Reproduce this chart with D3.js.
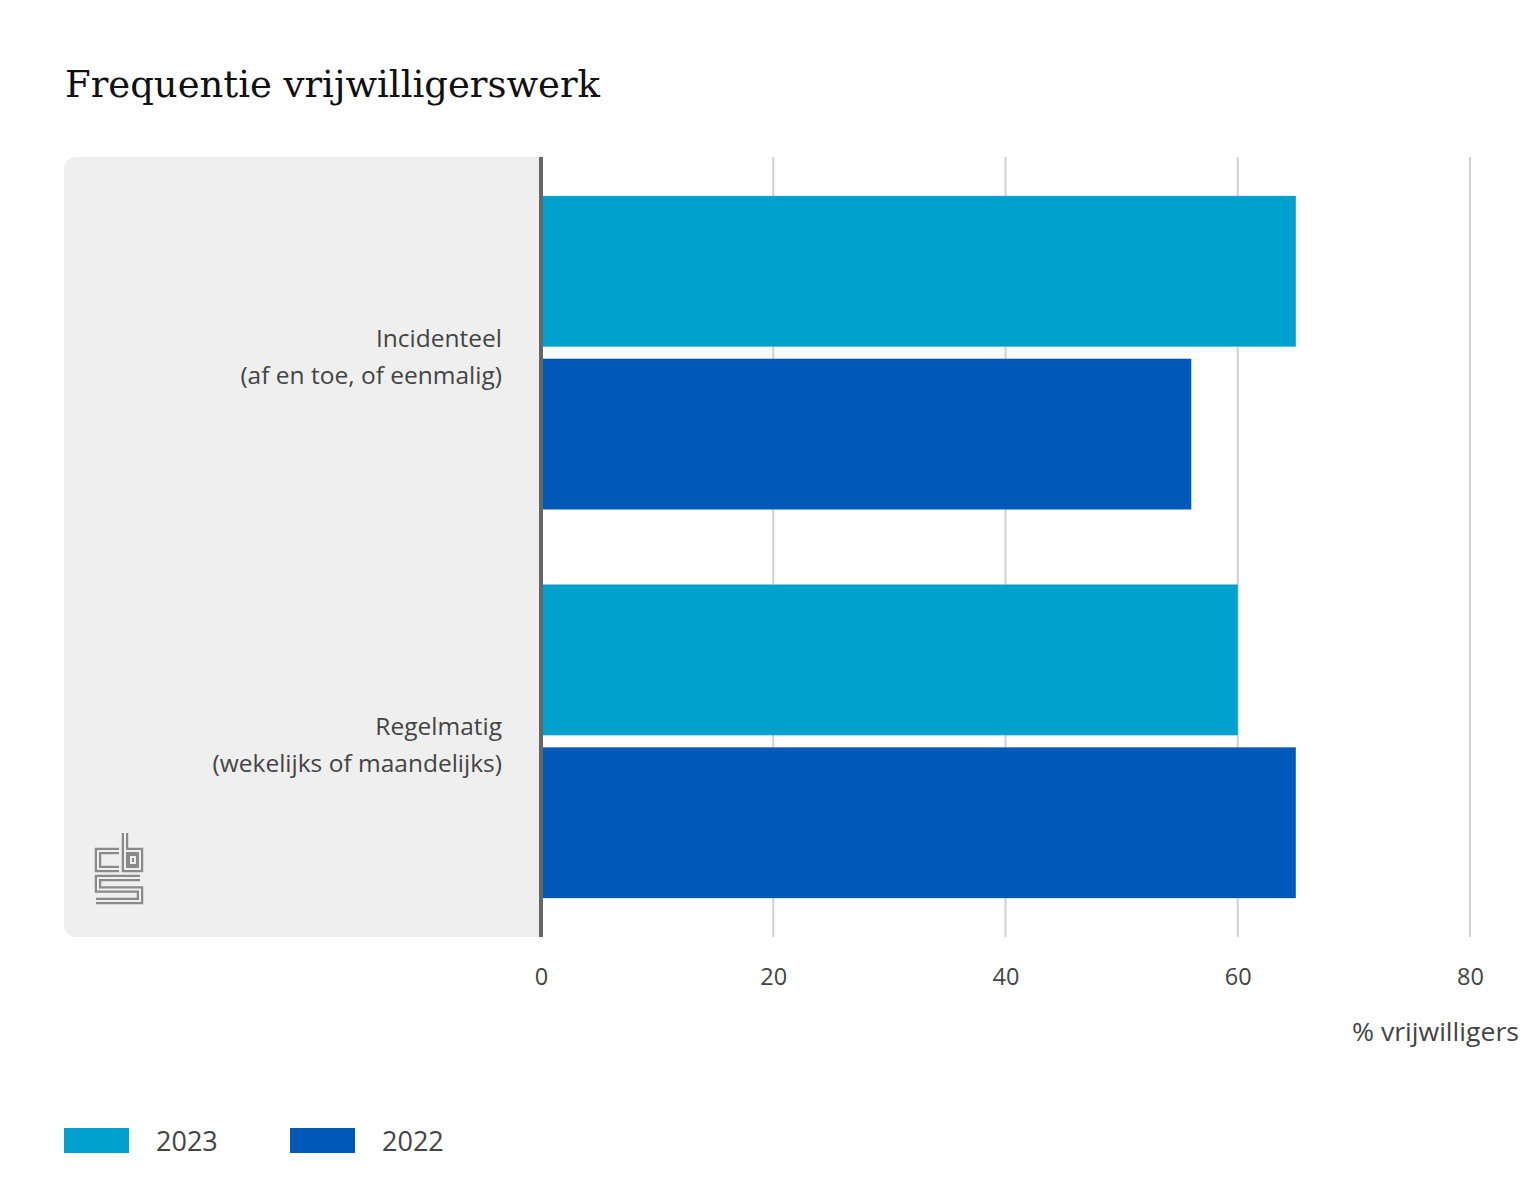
<!DOCTYPE html>
<html><head><meta charset="utf-8">
<script src="https://cdn.jsdelivr.net/npm/d3@7"></script>
<style>body{margin:0;background:#fff;} svg{display:block;}</style>
</head><body>
<script>
const categories = [["Incidenteel","(af en toe, of eenmalig)"],["Regelmatig","(wekelijks of maandelijks)"]];
const categoryKeys = ["Incidenteel","Regelmatig"];
const seriesNames = ["2023","2022"];
const values2023 = [65, 60];
const values2022 = [56, 65];
const tickValues = [0, 20, 40, 60, 80];
const colors = {"2023":"#00a1cd","2022":"#0058b8"};

const W = 1540, H = 1200;
const svg = d3.select("body").append("svg").attr("width", W).attr("height", H);
const font = "'Open Sans', sans-serif";

const m = {left:541, right:1470, top:157, bottom:937};
const x = d3.scaleLinear().domain([0,80]).range([m.left, m.right]);
const y0 = d3.scaleBand().domain(categoryKeys).range([m.top, m.bottom]).paddingInner(0.193).paddingOuter(0.1);
const y1 = d3.scaleBand().domain(seriesNames).range([0, y0.bandwidth()]).paddingInner(0.074);

// title
svg.append("text").attr("x",65).attr("y",97).text("Frequentie vrijwilligerswerk")
  .attr("font-family","'DejaVu Serif', serif").attr("font-size",37).attr("fill","#111")
  .attr("textLength",535).attr("lengthAdjust","spacingAndGlyphs");

// grey panel
svg.append("rect").attr("x",64).attr("y",m.top).attr("width",m.left-64+12).attr("height",m.bottom-m.top)
  .attr("rx",12).attr("fill","#efefef");
svg.append("rect").attr("x",m.left).attr("y",m.top).attr("width",20).attr("height",m.bottom-m.top).attr("fill","#fff");

// grid
svg.append("g").selectAll("line").data(tickValues.filter(d=>d>0)).join("line")
  .attr("x1",d=>x(d)).attr("x2",d=>x(d)).attr("y1",m.top).attr("y2",m.bottom)
  .attr("stroke","#d0d0d0").attr("stroke-width",2);

// x axis
const xAxis = svg.append("g").attr("transform",`translate(0,${m.bottom})`)
  .call(d3.axisBottom(x).tickValues(tickValues).tickSize(0).tickPadding(31));
xAxis.select(".domain").remove();
xAxis.selectAll("text").attr("font-family",font).attr("font-size",23.5).attr("fill","#444");

svg.append("text").attr("x",1519).attr("y",1041).attr("text-anchor","end").text("% vrijwilligers")
  .attr("font-family",font).attr("font-size",25).attr("fill","#444")
  .attr("textLength",167).attr("lengthAdjust","spacingAndGlyphs");

// bars
const data = categoryKeys.map((c,i)=>({cat:c, vals:[{s:"2023",v:values2023[i]},{s:"2022",v:values2022[i]}]}));
const groups = svg.append("g").selectAll("g").data(data).join("g")
  .attr("transform",d=>`translate(0,${y0(d.cat)})`);
groups.selectAll("rect").data(d=>d.vals).join("rect")
  .attr("x",x(0)).attr("y",d=>y1(d.s)).attr("height",y1.bandwidth())
  .attr("width",d=>x(d.v)-x(0)).attr("fill",d=>colors[d.s]);

// category labels
categories.forEach((lines,i)=>{
  const cy = y0(categoryKeys[i]) + y0.bandwidth()/2;
  const t = svg.append("text").attr("text-anchor","end").attr("font-family",font).attr("font-size",24.5).attr("fill","#444");
  lines.forEach((ln,j)=>{
    t.append("tspan").attr("x",502).attr("y",cy - 6 + j*37).text(ln);
  });
});

// y axis line
svg.append("line").attr("x1",m.left).attr("x2",m.left).attr("y1",m.top).attr("y2",m.bottom)
  .attr("stroke","#666").attr("stroke-width",4);

// logo
const logo = svg.append("g");
const lp = ["M119 851 H98 V869 H119","M125 833 V869 H140 V851 H125","M131 857 H135 V863 H131 Z","M140 878 H98 V889.5 H140 V901 H96"];
lp.forEach(p=>{
  logo.append("path").attr("d",p).attr("fill","none").attr("stroke","#8a8a8a").attr("stroke-width",6.5);
});
lp.forEach(p=>{
  logo.append("path").attr("d",p).attr("fill","none").attr("stroke","#efefef").attr("stroke-width",2);
});

// legend
seriesNames.forEach((s,i)=>{
  const lx = 64 + i*226;
  svg.append("rect").attr("x",lx).attr("y",1128).attr("width",65).attr("height",25).attr("fill",colors[s]);
  svg.append("text").attr("x",lx+92).attr("y",1151).text(s)
    .attr("font-family",font).attr("font-size",27).attr("fill","#444");
});
</script>
</body></html>
